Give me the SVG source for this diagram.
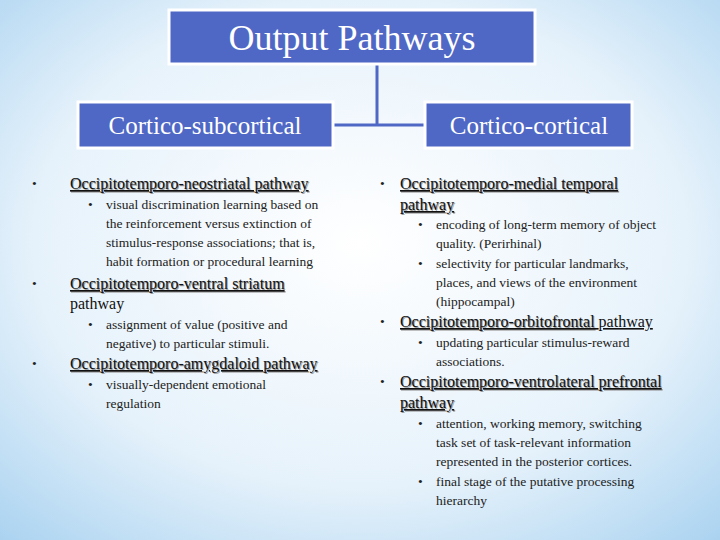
<svg xmlns="http://www.w3.org/2000/svg" width="720" height="540" viewBox="0 0 720 540">
<defs>
<radialGradient id="bg" cx="0.5" cy="0.45" r="0.75">
<stop offset="0" stop-color="#ffffff"/><stop offset="0.6" stop-color="#e6f2fb"/><stop offset="1" stop-color="#a9d2f0"/>
</radialGradient>
</defs>
<style>
text{font-family:'Liberation Serif','Times New Roman','DejaVu Serif',serif}
.box{fill:#4f68c6;stroke:#ffffff;stroke-width:3}
.bt{fill:#ffffff;text-anchor:middle}
.h{font-size:16px;fill:#111;text-decoration:underline}
.hs{font-size:16px;fill:#999;text-decoration:underline}
.t{font-size:13.5px;fill:#222}
.con{stroke:#4f68c6;stroke-width:3;fill:none}
</style>
<rect width="720" height="540" fill="url(#bg)"/>
<g id="connectors"><path class="con" d="M377 64 V125 M333 125 H425"/></g>
<g id="top"><rect class="box" x="169" y="10" width="366" height="54"/><text class="bt" x="352" y="50" font-size="36">Output Pathways</text></g>
<g id="left"><rect class="box" x="78" y="102" width="255" height="46"/><text class="bt" x="205" y="134" font-size="25">Cortico-subcortical</text></g>
<g id="right"><rect class="box" x="425" y="102" width="207" height="46"/><text class="bt" x="529" y="134" font-size="25">Cortico-cortical</text></g>
<g id="leftlist">
<text class="t" x="32" y="188">•</text>
<text class="hs" x="71" y="190">Occipitotemporo-neostriatal pathway</text><text class="h" x="70" y="189">Occipitotemporo-neostriatal pathway</text>
<text class="t" x="88" y="209">•</text>
<text class="t" x="106" y="209">visual discrimination learning based on</text>
<text class="t" x="106" y="228">the reinforcement versus extinction of</text>
<text class="t" x="106" y="247">stimulus-response associations; that is,</text>
<text class="t" x="106" y="266">habit formation or procedural learning</text>
<text class="t" x="32" y="288">•</text>
<text class="hs" x="71" y="290">Occipitotemporo-ventral striatum</text><text class="h" x="70" y="289">Occipitotemporo-ventral striatum</text>
<text class="h" x="70" y="309" style="text-decoration:none">pathway</text>
<text class="t" x="88" y="329">•</text>
<text class="t" x="106" y="329">assignment of value (positive and</text>
<text class="t" x="106" y="348">negative) to particular stimuli.</text>
<text class="t" x="32" y="368">•</text>
<text class="hs" x="71" y="370">Occipitotemporo-amygdaloid pathway</text><text class="h" x="70" y="369">Occipitotemporo-amygdaloid pathway</text>
<text class="t" x="88" y="389">•</text>
<text class="t" x="106" y="389">visually-dependent emotional</text>
<text class="t" x="106" y="408">regulation</text>
</g>
<g id="rightlist">
<text class="t" x="380" y="188">•</text>
<text class="hs" x="401" y="190">Occipitotemporo-medial temporal</text><text class="h" x="400" y="189">Occipitotemporo-medial temporal</text>
<text class="hs" x="401" y="211">pathway</text><text class="h" x="400" y="210">pathway</text>
<text class="t" x="418" y="229">•</text>
<text class="t" x="436" y="229">encoding of long-term memory of object</text>
<text class="t" x="436" y="248">quality. (Perirhinal)</text>
<text class="t" x="418" y="268">•</text>
<text class="t" x="436" y="268">selectivity for particular landmarks,</text>
<text class="t" x="436" y="287">places, and views of the environment</text>
<text class="t" x="436" y="306">(hippocampal)</text>
<text class="t" x="380" y="326">•</text>
<text class="hs" x="401" y="328">Occipitotemporo-orbitofrontal </text><text class="h" x="400" y="327">Occipitotemporo-orbitofrontal <tspan style="text-decoration:none">pathway</tspan></text>
<text class="t" x="418" y="347">•</text>
<text class="t" x="436" y="347">updating particular stimulus-reward</text>
<text class="t" x="436" y="366">associations.</text>
<text class="t" x="380" y="386">•</text>
<text class="hs" x="401" y="388">Occipitotemporo-ventrolateral prefrontal</text><text class="h" x="400" y="387">Occipitotemporo-ventrolateral prefrontal</text>
<text class="hs" x="401" y="409">pathway</text><text class="h" x="400" y="408">pathway</text>
<text class="t" x="418" y="428">•</text>
<text class="t" x="436" y="428">attention, working memory, switching</text>
<text class="t" x="436" y="447">task set of task-relevant information</text>
<text class="t" x="436" y="466">represented in the posterior cortices.</text>
<text class="t" x="418" y="486">•</text>
<text class="t" x="436" y="486">final stage of the putative processing</text>
<text class="t" x="436" y="505">hierarchy</text>
</g>
</svg>
